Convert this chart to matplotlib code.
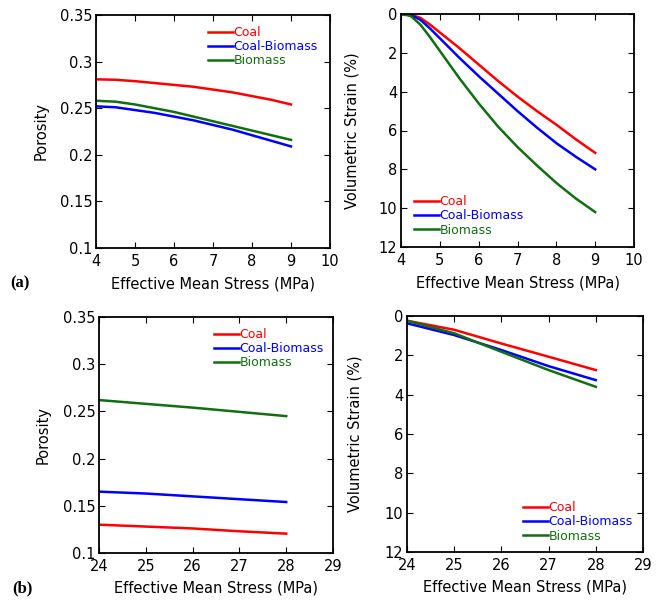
import matplotlib
matplotlib.use("Agg")
import matplotlib.pyplot as plt
import numpy as np

plt.rcParams['font.family'] = ['DejaVu Sans']

# ---- data ----
series_names = ["Coal", "Coal-Biomass", "Biomass"]
series_colors = ["#ff0000", "#0000ff", "#107010"]

# (a) stress 4-9 MPa, porosity
stress_a_por = [4, 4.5, 5, 5.5, 6, 6.5, 7, 7.5, 8, 8.5, 9]
por_a_coal = [0.281, 0.2805, 0.279, 0.277, 0.275, 0.273, 0.270, 0.267, 0.263, 0.259, 0.254]
por_a_mix = [0.252, 0.251, 0.248, 0.245, 0.241, 0.237, 0.232, 0.227, 0.221, 0.215, 0.209]
por_a_bio = [0.258, 0.257, 0.254, 0.250, 0.246, 0.241, 0.236, 0.231, 0.226, 0.221, 0.216]

# (a) stress 4-9 MPa, volumetric strain (%)
stress_a_str = [4, 4.25, 4.5, 4.75, 5, 5.5, 6, 6.5, 7, 7.5, 8, 8.5, 9]
str_a_coal = [0.0, 0.03, 0.2, 0.55, 0.95, 1.75, 2.6, 3.45, 4.25, 5.0, 5.7, 6.45, 7.15]
str_a_mix = [0.0, 0.05, 0.3, 0.75, 1.25, 2.25, 3.2, 4.1, 5.0, 5.85, 6.65, 7.35, 8.0]
str_a_bio = [0.0, 0.1, 0.55, 1.2, 1.9, 3.3, 4.6, 5.8, 6.85, 7.8, 8.7, 9.5, 10.2]

# (b) stress 24-28 MPa
stress_b = [24, 25, 26, 27, 28]
por_b_coal = [0.130, 0.128, 0.126, 0.123, 0.1205]
por_b_mix = [0.165, 0.163, 0.160, 0.157, 0.154]
por_b_bio = [0.262, 0.258, 0.254, 0.2495, 0.245]

str_b_coal = [0.24, 0.7, 1.4, 2.07, 2.75]
str_b_mix = [0.37, 0.97, 1.73, 2.55, 3.26]
str_b_bio = [0.24, 0.88, 1.82, 2.75, 3.6]

W, H = 663, 601
fig = plt.figure(figsize=(W / 100, H / 100), dpi=100)


def add_ax(l, r, t, b):
    return fig.add_axes([l / W, (H - b) / H, (r - l) / W, (b - t) / H])


def style(ax):
    ax.tick_params(direction='in', top=True, right=True, labelsize=10.5,
                   length=4, width=0.8)
    ax.tick_params(axis='x', pad=4.5)
    ax.tick_params(axis='y', pad=2.5)
    for s in ax.spines.values():
        s.set_linewidth(1.3)


def plot_lines(ax, x, ys):
    for y, name, c in zip(ys, series_names, series_colors):
        ax.plot(x, y, color=c, lw=1.8, label=name)


def legend(ax, anchor, loc):
    ax.legend(loc=loc, bbox_to_anchor=anchor, frameon=False, fontsize=9,
              handlelength=2.0, handletextpad=0.05, labelspacing=0.1,
              labelcolor='linecolor', borderpad=0, borderaxespad=0)


xlabel = "Effective Mean Stress (MPa)"
LF = 10.5

# (a) porosity
ax1 = add_ax(96, 330, 15, 248)
plot_lines(ax1, stress_a_por, [por_a_coal, por_a_mix, por_a_bio])
ax1.set_xlim(4, 10)
ax1.set_ylim(0.1, 0.35)
ax1.set_xticks([4, 5, 6, 7, 8, 9, 10])
ax1.set_yticks([0.1, 0.15, 0.2, 0.25, 0.3, 0.35])
ax1.set_yticklabels(["0.1", "0.15", "0.2", "0.25", "0.3", "0.35"])
ax1.set_ylabel("Porosity", fontsize=LF, labelpad=8)
ax1.set_xlabel(xlabel, fontsize=LF, labelpad=5.5)
style(ax1)
legend(ax1, ((208 - 96) / 234, (248 - 26) / 233), 'upper left')

# (a) strain
ax2 = add_ax(401, 634, 14, 247)
plot_lines(ax2, stress_a_str, [str_a_coal, str_a_mix, str_a_bio])
ax2.set_xlim(4, 10)
ax2.set_ylim(12, 0)
ax2.set_xticks([4, 5, 6, 7, 8, 9, 10])
ax2.set_yticks([0, 2, 4, 6, 8, 10, 12])
ax2.set_ylabel("Volumetric Strain (%)", fontsize=LF, labelpad=14)
ax2.set_xlabel(xlabel, fontsize=LF, labelpad=5.5)
style(ax2)
legend(ax2, ((414 - 401) / 233, (247 - 195) / 233), 'upper left')

# (b) porosity
ax3 = add_ax(99, 333, 317, 553)
plot_lines(ax3, stress_b, [por_b_coal, por_b_mix, por_b_bio])
ax3.set_xlim(24, 29)
ax3.set_ylim(0.1, 0.35)
ax3.set_xticks([24, 25, 26, 27, 28, 29])
ax3.set_yticks([0.1, 0.15, 0.2, 0.25, 0.3, 0.35])
ax3.set_yticklabels(["0.1", "0.15", "0.2", "0.25", "0.3", "0.35"])
ax3.set_ylabel("Porosity", fontsize=LF, labelpad=9)
ax3.set_xlabel(xlabel, fontsize=LF, labelpad=4.5)
style(ax3)
legend(ax3, ((214 - 99) / 234, (553 - 328) / 236), 'upper left')

# (b) strain
ax4 = add_ax(407, 643, 316, 552)
plot_lines(ax4, stress_b, [str_b_coal, str_b_mix, str_b_bio])
ax4.set_xlim(24, 29)
ax4.set_ylim(12, 0)
ax4.set_xticks([24, 25, 26, 27, 28, 29])
ax4.set_yticks([0, 2, 4, 6, 8, 10, 12])
ax4.set_ylabel("Volumetric Strain (%)", fontsize=LF, labelpad=16)
ax4.set_xlabel(xlabel, fontsize=LF, labelpad=4.5)
style(ax4)
legend(ax4, ((523 - 407) / 236, (552 - 501) / 236), 'upper left')

fig.text(10 / W, 1 - 283 / H, "(a)", family='Liberation Serif', weight='bold',
         fontsize=12, va='center', ha='left')
fig.text(12 / W, 1 - 588 / H, "(b)", family='Liberation Serif', weight='bold',
         fontsize=12, va='center', ha='left')

fig.savefig("out.png", dpi=100)
